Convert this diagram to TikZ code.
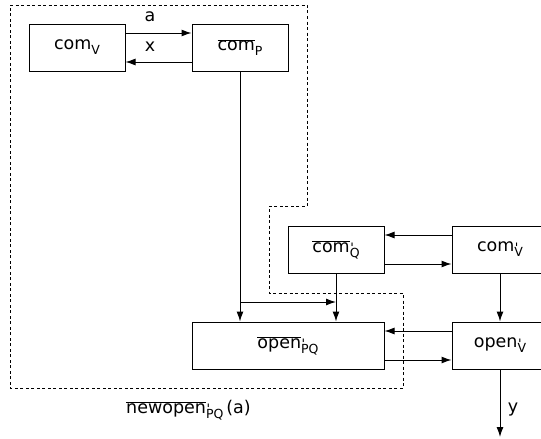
\documentclass[tikz,border=0pt]{standalone}
\usepackage{fontspec}
\setmainfont{DejaVu Sans}
\newfontfamily\qfont{DejaVu Sans}
\usetikzlibrary{arrows.meta}
\newcommand{\ovl}[1]{$\overline{\hbox{#1}}$}
\newcommand{\sbs}[1]{\raisebox{-5pt}{\fontsize{12.5}{12.5}\selectfont #1}}
\newcommand{\psub}[1]{\rlap{\hspace{0.5pt}\raisebox{-0.5pt}{\fontsize{13}{13}\qfont'}}\sbs{#1}}
\begin{document}
\begin{tikzpicture}[x=1pt,y=-1pt,
  font=\fontsize{17.5}{20}\selectfont,
  boxnode/.style={draw,line width=1pt,minimum width=96pt,minimum height=47pt,inner sep=0pt},
  widebox/.style={boxnode,minimum width=192pt},
  conn/.style={line width=1pt,-{Latex[length=10pt,width=7pt]}},
  bound/.style={line width=0.9pt,dash pattern=on 3pt off 2.5pt},
  lbl/.style={inner sep=0pt}]
\useasboundingbox (0,0) rectangle (541,439);
% nodes
\node[boxnode] (comV) at (77,47.5) {com\sbs{V}};
\node[boxnode] (comP) at (240,47.5) {\ovl{com}\sbs{P}};
\node[boxnode] (comQ) at (336,249.5) {\ovl{com}\psub{Q}};
\node[boxnode] (comVp) at (500,249.5) {com\psub{V}};
\node[widebox] (openPQ) at (288,345.5) {\ovl{open}\psub{PQ}};
\node[boxnode] (openVp) at (500,345.5) {open\psub{V}};
% labels
\node[lbl] (la) at (150,17) {a};
\node[lbl] (lx) at (150,47) {x};
\node[lbl] (ly) at (513,410) {y};
\node[lbl,anchor=west] (lnew) at (126,410) {\ovl{newopen}\psub{PQ}\,(a)};
\coordinate (yend) at (500,437);
\coordinate (branch) at (240,302);
% dashed boundary
\draw[bound] (10,5) -- (307,5) -- (307,206) -- (269,206) -- (269,293) -- (403,293) -- (403,388) -- (10,388) -- cycle;
% connectors
\draw[conn] ([yshift=14.5pt]comV.east) -- ([yshift=14.5pt]comP.west);
\draw[conn] ([yshift=-14.5pt]comP.west) -- ([yshift=-14.5pt]comV.east);
\draw[conn] (comP.south) -- (comP.south |- openPQ.north);
\draw[conn] (branch) -- (branch -| comQ.south);
\draw[conn] (comQ.south) -- (comQ.south |- openPQ.north);
\draw[conn] ([yshift=14.5pt]comVp.west) -- ([yshift=14.5pt]comQ.east);
\draw[conn] ([yshift=-14.5pt]comQ.east) -- ([yshift=-14.5pt]comVp.west);
\draw[conn] (comVp.south) -- (openVp.north);
\draw[conn] ([yshift=14.5pt]openVp.west) -- ([yshift=14.5pt]openPQ.east);
\draw[conn] ([yshift=-14.5pt]openPQ.east) -- ([yshift=-14.5pt]openVp.west);
\draw[conn] (openVp.south) -- (yend);
\end{tikzpicture}
\end{document}
